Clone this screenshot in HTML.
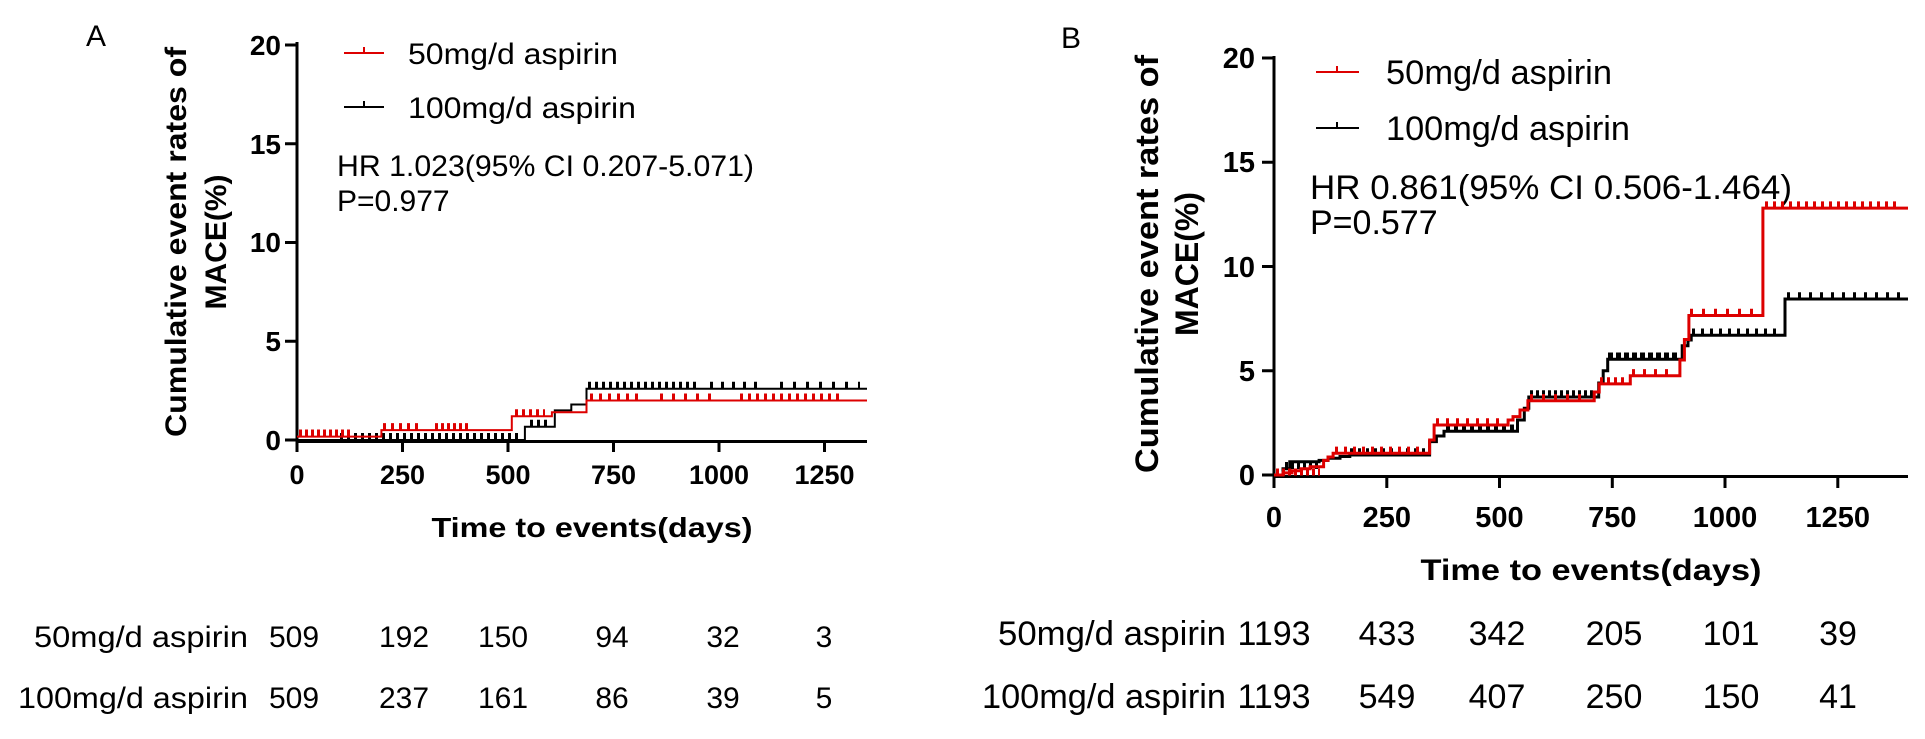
<!DOCTYPE html>
<html><head><meta charset="utf-8"><style>
html,body{margin:0;padding:0;background:#fff;}
svg{display:block;font-family:"Liberation Sans",Arial,sans-serif;}
.b{font-weight:bold;}
</style></head><body>
<svg width="1925" height="739" viewBox="0 0 1925 739" xmlns="http://www.w3.org/2000/svg">
<!-- ===== Panel A ===== -->
<text x="86" y="46" font-size="30">A</text>
<g class="b" font-size="30" text-anchor="middle">
<text transform="translate(186,242) rotate(-90)" textLength="390" lengthAdjust="spacingAndGlyphs">Cumulative event rates of</text>
<text transform="translate(226,242) rotate(-90)">MACE(%)</text>
</g>
<g stroke="#000" stroke-width="3" fill="none">
<path d="M297 42V441.5H867"/>
<path d="M285 440H297M285 341.3H297M285 242.5H297M285 143.8H297M285 45H297"/>
<path d="M297 440V452M402.5 440V452M508 440V452M613.5 440V452M719 440V452M824.5 440V452"/>
</g>
<g class="b" font-size="28" text-anchor="end">
<text x="281" y="450">0</text><text x="281" y="351">5</text><text x="281" y="252">10</text><text x="281" y="154">15</text><text x="281" y="55">20</text>
</g>
<g class="b" font-size="27" text-anchor="middle">
<text x="297" y="484">0</text><text x="402.5" y="484">250</text><text x="508" y="484">500</text><text x="613.5" y="484">750</text><text x="719" y="484">1000</text><text x="824.5" y="484">1250</text>
<text x="592" y="537" font-size="28" textLength="321" lengthAdjust="spacingAndGlyphs">Time to events(days)</text>
</g>
<!-- legend A -->
<g stroke-width="2" fill="none">
<path d="M344 53H384M364 53V47" stroke="#d00"/>
<path d="M344 107H384M364 107V101" stroke="#000"/>
</g>
<g font-size="30">
<text x="408" y="64" textLength="210" lengthAdjust="spacingAndGlyphs">50mg/d aspirin</text>
<text x="408" y="118" textLength="228" lengthAdjust="spacingAndGlyphs">100mg/d aspirin</text>
<text x="337" y="176" textLength="417" lengthAdjust="spacingAndGlyphs">HR 1.023(95% CI 0.207-5.071)</text>
<text x="337" y="211">P=0.977</text>
</g>
<!-- curves A -->
<path d="M297 440H524.9V426.8H554.8V410.4H571.3V404.5H586.5V388.7H867" stroke="#000" stroke-width="2" fill="none"/>
<g stroke="#000" stroke-width="7" stroke-dasharray="3 4" fill="none">
<path d="M340 436.5H520"/><path d="M530 423.3H550"/><path d="M588 385.2H700"/><path d="M710 385.2H760" stroke-dasharray="3 8"/><path d="M780 385.2H860" stroke-dasharray="3 10"/>
</g>
<path d="M297 436.6H381.4V430.1H511.8V416.3H551.9V412.3H586.5V400.5H867" stroke="#d00" stroke-width="2" fill="none"/>
<g stroke="#d00" stroke-width="7" stroke-dasharray="3 3" fill="none">
<path d="M299 433H350"/><path d="M383 426.6H420" stroke-dasharray="3 5"/><path d="M435 426.6H470"/><path d="M515 412.8H545" stroke-dasharray="3 4"/><path d="M590 397H640" stroke-dasharray="3 6"/><path d="M660 397H720" stroke-dasharray="3 9"/><path d="M740 397H840" stroke-dasharray="3 5"/>
</g>
<!-- table A -->
<g font-size="30">
<g text-anchor="end">
<text x="248" y="647" textLength="214" lengthAdjust="spacingAndGlyphs">50mg/d aspirin</text>
<text x="248" y="708" textLength="230" lengthAdjust="spacingAndGlyphs">100mg/d aspirin</text>
</g>
<g text-anchor="middle">
<text x="294" y="647">509</text><text x="404" y="647">192</text><text x="503" y="647">150</text><text x="612" y="647">94</text><text x="723" y="647">32</text><text x="824" y="647">3</text>
<text x="294" y="708">509</text><text x="404" y="708">237</text><text x="503" y="708">161</text><text x="612" y="708">86</text><text x="723" y="708">39</text><text x="824" y="708">5</text>
</g>
</g>

<!-- ===== Panel B ===== -->
<text x="1061" y="48" font-size="30">B</text>
<g class="b" font-size="32" text-anchor="middle">
<text transform="translate(1158,264) rotate(-90)" textLength="418" lengthAdjust="spacingAndGlyphs">Cumulative event rates of</text>
<text transform="translate(1198,264) rotate(-90)">MACE(%)</text>
</g>
<g stroke="#000" stroke-width="3" fill="none">
<path d="M1274 56V476.5H1908"/>
<path d="M1262 475H1274M1262 370.8H1274M1262 266.5H1274M1262 162.3H1274M1262 58H1274"/>
<path d="M1274 475V488M1386.8 475V488M1499.5 475V488M1612.3 475V488M1725 475V488M1837.8 475V488"/>
</g>
<g class="b" font-size="29" text-anchor="end">
<text x="1255" y="485">0</text><text x="1255" y="381">5</text><text x="1255" y="277">10</text><text x="1255" y="172">15</text><text x="1255" y="68">20</text>
</g>
<g class="b" font-size="29" text-anchor="middle">
<text x="1274" y="527">0</text><text x="1386.8" y="527">250</text><text x="1499.5" y="527">500</text><text x="1612.3" y="527">750</text><text x="1725" y="527">1000</text><text x="1837.8" y="527">1250</text>
<text x="1591" y="580" font-size="30" textLength="341" lengthAdjust="spacingAndGlyphs">Time to events(days)</text>
</g>
<!-- legend B -->
<g stroke-width="2" fill="none">
<path d="M1316 72H1359M1337 72V66" stroke="#d00"/>
<path d="M1316 128H1359M1337 128V122" stroke="#000"/>
</g>
<g font-size="34">
<text x="1386" y="84" textLength="226" lengthAdjust="spacingAndGlyphs">50mg/d aspirin</text>
<text x="1386" y="140" textLength="244" lengthAdjust="spacingAndGlyphs">100mg/d aspirin</text>
<text x="1310" y="199" textLength="482" lengthAdjust="spacingAndGlyphs">HR 0.861(95% CI 0.506-1.464)</text>
<text x="1310" y="234">P=0.577</text>
</g>
<!-- curves B -->
<path d="M1274 475H1283V468.7H1289.8V461.7H1319.1V460.4H1328.1V458.3H1340V456.5H1349.8V455H1429.6V441.6H1436.4V436H1444V431.2H1517.5V420H1524.3V408.3H1528.8V397H1598.7V383H1603.2V370.8H1607.7V359.3H1682.2V345.7H1688V340H1691.2V335.3H1785V299H1908" stroke="#000" stroke-width="3" fill="none"/>
<g stroke="#000" stroke-width="7" stroke-dasharray="3 3" fill="none">
<path d="M1285 465.5H1320"/><path d="M1350 451.8H1425" stroke-dasharray="3 5"/><path d="M1446 428H1515" stroke-dasharray="4 4"/><path d="M1530 393.8H1595"/><path d="M1608 356H1680" stroke-dasharray="5 3"/><path d="M1692 332H1780" stroke-dasharray="3 6"/><path d="M1787 295.8H1900" stroke-dasharray="3 8"/>
</g>
<path d="M1274 475H1283V472.9H1292V470.8H1301V468.7H1310.1V466.7H1323.6V460.4H1328V457H1333.1V453.3H1429.6V440H1434.1V425H1508.1V420H1513V416.6H1520V410H1527.9V400.8H1594.2V392H1599.2V383.9H1630.3V375.8H1679.9V360H1684.4V339.5H1688.9V315.5H1762.9V208.1H1908" stroke="#d00" stroke-width="3" fill="none"/>
<g stroke="#d00" stroke-width="7" stroke-dasharray="3 3" fill="none">
<path d="M1276 472H1320"/><path d="M1335 450.1H1425" stroke-dasharray="3 6"/><path d="M1436 421.8H1505" stroke-dasharray="3 7"/><path d="M1530 397.6H1590" stroke-dasharray="3 9"/><path d="M1600 380.7H1625" stroke-dasharray="3 4"/><path d="M1632 372.6H1676" stroke-dasharray="3 8"/><path d="M1690 312.3H1760" stroke-dasharray="3 9"/><path d="M1765 204.9H1900" stroke-dasharray="3 5"/>
</g>
<!-- table B -->
<g font-size="34">
<g text-anchor="end">
<text x="1226" y="645" textLength="228" lengthAdjust="spacingAndGlyphs">50mg/d aspirin</text>
<text x="1226" y="708" textLength="244" lengthAdjust="spacingAndGlyphs">100mg/d aspirin</text>
</g>
<g text-anchor="middle">
<text x="1274" y="645">1193</text><text x="1387" y="645">433</text><text x="1497" y="645">342</text><text x="1614" y="645">205</text><text x="1731" y="645">101</text><text x="1838" y="645">39</text>
<text x="1274" y="708">1193</text><text x="1387" y="708">549</text><text x="1497" y="708">407</text><text x="1614" y="708">250</text><text x="1731" y="708">150</text><text x="1838" y="708">41</text>
</g>
</g>
</svg>
</body></html>
